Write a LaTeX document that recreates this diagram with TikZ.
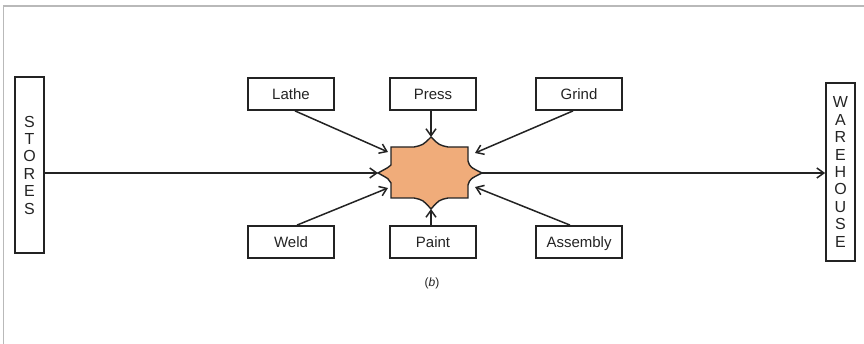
\documentclass[tikz,border=0pt]{standalone}
\usepackage{fontspec}
\setmainfont{Liberation Sans}
\usetikzlibrary{arrows.meta}
\definecolor{starfill}{RGB}{240,172,122}
\definecolor{ink}{RGB}{35,35,35}
\tikzset{
  procbox/.style={draw=ink, line width=1.8pt, minimum width=86pt, minimum height=32pt, inner sep=0pt, text height=10.8pt, text depth=0pt, font=\fontsize{15}{17}\selectfont, text=ink},
  endbox/.style={draw=ink, line width=1.8pt, minimum width=29pt, inner sep=0pt, align=center, font=\fontsize{16}{17.4}\selectfont, text=ink},
  flow/.style={draw=ink, line width=1.5pt, -{Straight Barb[length=7pt,width=10pt,line width=1.5pt]}},
}
\begin{document}
\begin{tikzpicture}[x=1pt,y=-1pt]
\useasboundingbox (0,0) rectangle (864,344);
% frame
\draw[gray!55, line width=1.6pt] (3.5,344) -- (3.5,6) -- (864,6);
% end boxes
\node[endbox, minimum height=176pt] (stores) at (29.5,165) {S\\T\\O\\R\\E\\S};
\node[endbox, minimum height=178pt] (warehouse) at (840.5,172) {W\\A\\R\\E\\H\\O\\U\\S\\E};
% process boxes
\node[procbox] (lathe) at (291,94) {Lathe};
\node[procbox] (press) at (433,94) {Press};
\node[procbox] (grind) at (579,94) {Grind};
\node[procbox] (weld) at (291,242) {Weld};
\node[procbox] (paint) at (433,242) {Paint};
\node[procbox] (assembly) at (579,242) {Assembly};
\node[font=\fontsize{12}{14}\selectfont, text=ink] (cap) at (432,283) {(\textit{b})};
% star geometry
\coordinate (c) at (430,173);
\coordinate (sN) at (431,137);
\coordinate (sS) at (431,209);
\coordinate (sW) at (378,173);
\coordinate (sE) at (482,173);
\coordinate (sNW) at (388,152);
\coordinate (sNE) at (475,153);
\coordinate (sSW) at (388,188);
\coordinate (sSE) at (475,187);
% connectors
\draw[flow] (stores.east |- sW) -- (sW);
\draw[flow] ([xshift=4pt]lathe.south) -- (sNW);
\draw[flow] (sN |- press.south) -- (sN);
\draw[flow] ([xshift=-6pt]grind.south) -- (sNE);
\draw[flow] ([xshift=6pt]weld.north) -- (sSW);
\draw[flow] (sS |- paint.north) -- (sS);
\draw[flow] ([xshift=-9pt]assembly.north) -- (sSE);
% star
\draw[ink, line width=1.4pt, fill=starfill, line join=miter]
  (391,147) -- (414,147) .. controls (423,145) .. (sN) .. controls (439,145) .. (448,147) -- (468,147)
  -- (468,161) .. controls (470,167) .. (sE) .. controls (470,179) .. (468,185) -- (468,198)
  -- (448,198) .. controls (439,200) .. (sS) .. controls (423,200) .. (414,198) -- (391,198)
  -- (391,183) .. controls (389,179) .. (sW) .. controls (389,167) .. (391,165) -- cycle;
\draw[flow] (sE) -- (sE -| warehouse.west);
\end{tikzpicture}
\end{document}
